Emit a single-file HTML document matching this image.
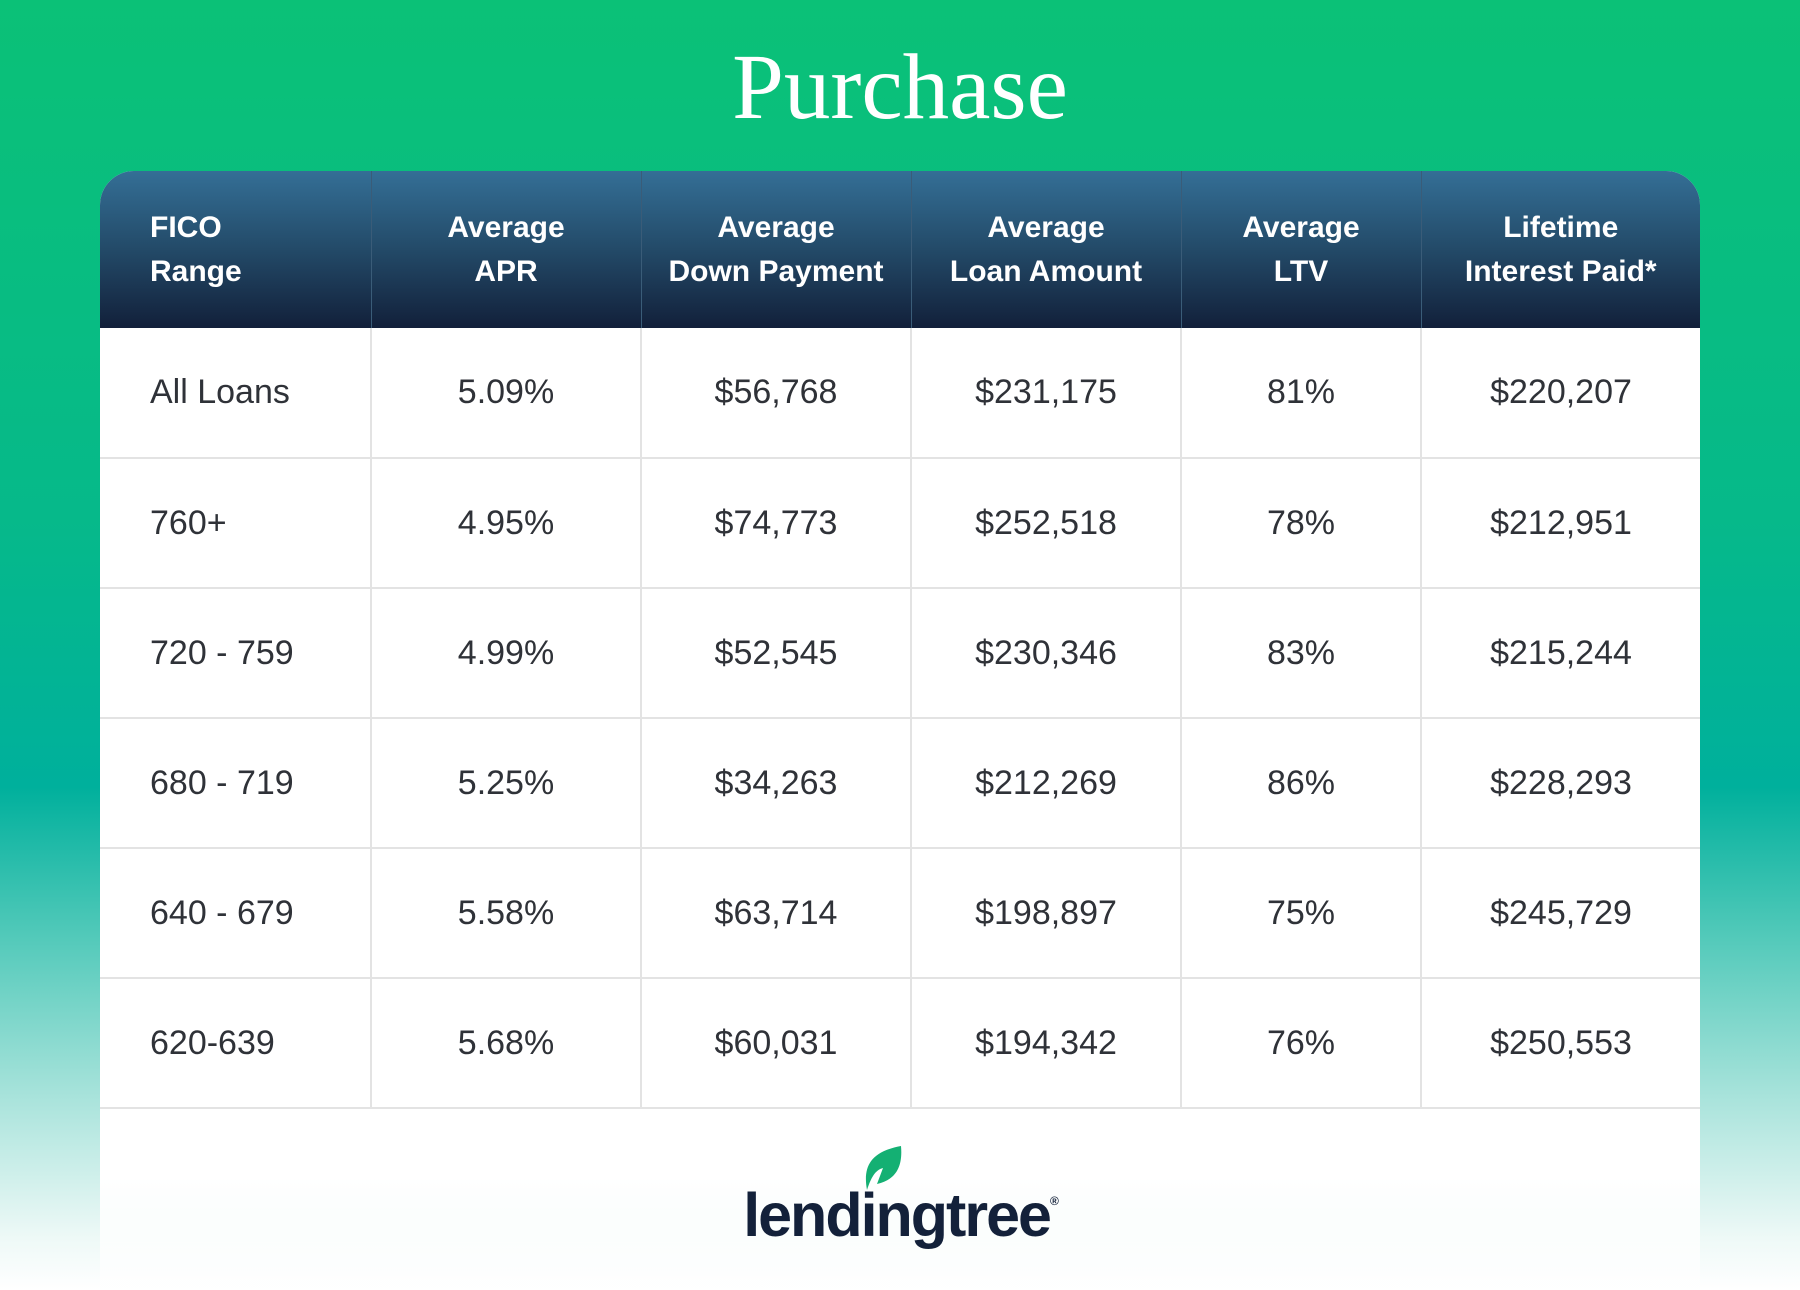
<!DOCTYPE html>
<html><head><style>
*{margin:0;padding:0;box-sizing:border-box}
body{width:1800px;height:1290px;overflow:hidden;position:relative;font-family:"Liberation Sans",sans-serif;
background:linear-gradient(180deg,#0bc177 0%,#06b98a 40%,#00b09c 61%,#4ec8b8 72%,#a8e3db 85%,#eef9f7 96%,#ffffff 100%);}
h1{position:absolute;top:34px;left:0;width:1800px;text-align:center;font-family:"Liberation Serif",serif;font-weight:normal;font-size:93px;color:#fff;letter-spacing:0px}
.card{position:absolute;left:100px;top:171px;width:1600px;height:1119px;background:linear-gradient(180deg,#fff 0%,#fff 90%,rgba(255,255,255,0.6) 100%);border-radius:34px 34px 0 0;overflow:hidden}
table{border-collapse:collapse;width:1600px;table-layout:fixed}
th{height:157px;color:#fff;font-size:30px;font-weight:bold;line-height:44px;text-align:center;border-left:1px solid #3a5c78}
thead tr{background:linear-gradient(180deg,#346f96 0%,#234a68 50%,#12203a 100%)}
td{height:130px;font-size:34px;color:#2f3238;text-align:center;border-left:2px solid #e3e3e3;border-bottom:2px solid #e3e3e3}
th:first-child,td:first-child{text-align:left;padding-left:50px;border-left:none}
.logo{position:absolute;left:0;top:1180px;width:1800px;text-align:center}
.lt{font-size:61px;font-weight:bold;color:#13213a;letter-spacing:-2px;position:relative;display:inline-block}
</style></head><body>
<h1>Purchase</h1>
<div class="card">
<table>
<colgroup><col style="width:271px"><col style="width:270px"><col style="width:270px"><col style="width:270px"><col style="width:240px"><col style="width:279px"></colgroup>
<thead><tr><th>FICO<br>Range</th><th>Average<br>APR</th><th>Average<br>Down Payment</th><th>Average<br>Loan Amount</th><th>Average<br>LTV</th><th>Lifetime<br>Interest Paid*</th></tr></thead>
<tbody>
<tr><td>All Loans</td><td>5.09%</td><td>$56,768</td><td>$231,175</td><td>81%</td><td>$220,207</td></tr>
<tr><td>760+</td><td>4.95%</td><td>$74,773</td><td>$252,518</td><td>78%</td><td>$212,951</td></tr>
<tr><td>720 - 759</td><td>4.99%</td><td>$52,545</td><td>$230,346</td><td>83%</td><td>$215,244</td></tr>
<tr><td>680 - 719</td><td>5.25%</td><td>$34,263</td><td>$212,269</td><td>86%</td><td>$228,293</td></tr>
<tr><td>640 - 679</td><td>5.58%</td><td>$63,714</td><td>$198,897</td><td>75%</td><td>$245,729</td></tr>
<tr><td>620-639</td><td>5.68%</td><td>$60,031</td><td>$194,342</td><td>76%</td><td>$250,553</td></tr>
</tbody></table>
</div>
<div class="logo">
<div class="lt">lendingtree<sup style="font-size:12px;vertical-align:top;position:relative;top:14px">®</sup>
<svg style="position:absolute;left:118px;top:-36px" width="42" height="48" viewBox="0 0 42 48"><path d="M6 46 C2 24 8 8 40 2 C42 24 34 36 16 40 L22 24 C14 26 10 34 6 46Z" fill="#14b073"/></svg>
</div></div>
</body></html>
